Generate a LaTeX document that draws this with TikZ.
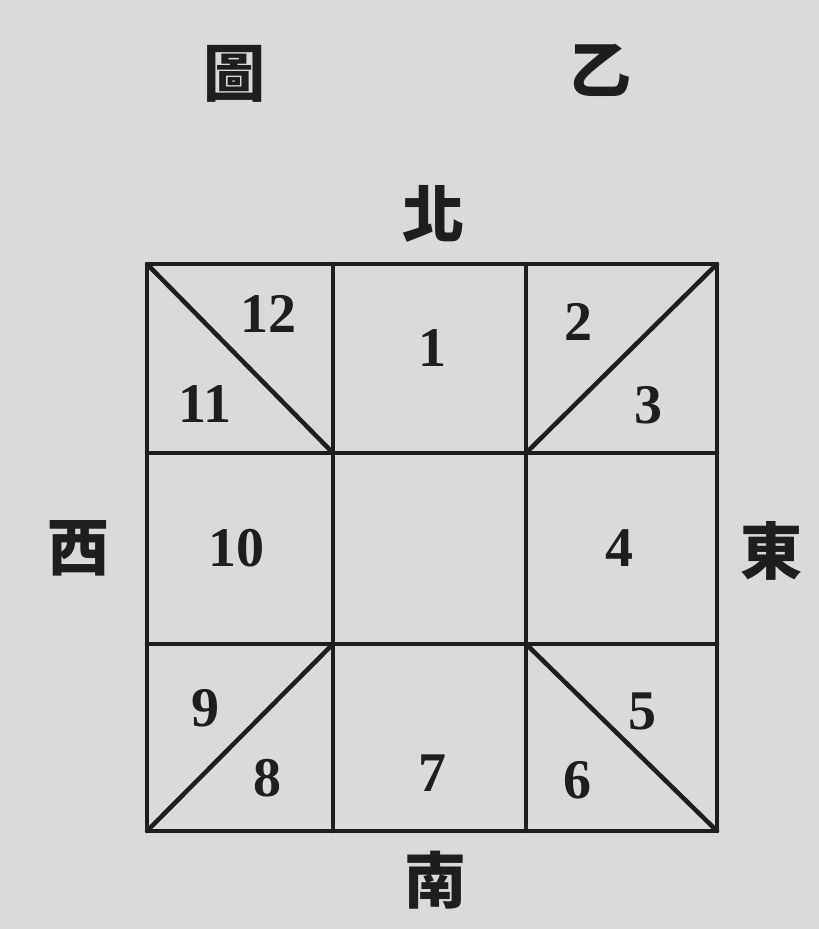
\documentclass[tikz,border=0pt]{standalone}
\usepackage{fontspec}
\setmainfont{Liberation Serif}
\newfontfamily\cjk{Noto Sans CJK TC}
\definecolor{paper}{HTML}{DADADA}
\definecolor{ink}{HTML}{1E1E1E}
\begin{document}
\begin{tikzpicture}[x=1pt,y=-1pt,
  gridline/.style={draw=ink,line width=4.5pt,line cap=round,line join=round},
  num/.style={text=ink,font=\fontsize{56}{60}\selectfont\bfseries,inner sep=0pt},
  dir/.style={text=ink,font=\cjk\bfseries\fontsize{62}{66}\selectfont,inner sep=0pt}]
\fill[paper] (0,0) rectangle (819,929);
\useasboundingbox (0,0) rectangle (819,929);
% grid corners
\coordinate (A) at (147,264); \coordinate (B) at (717,264);
\coordinate (C) at (717,831); \coordinate (D) at (147,831);
\coordinate (x1t) at (333,264); \coordinate (x1b) at (333,831);
\coordinate (x2t) at (526,264); \coordinate (x2b) at (526,831);
\coordinate (y1l) at (147,453); \coordinate (y1r) at (717,453);
\coordinate (y2l) at (147,644); \coordinate (y2r) at (717,644);
\coordinate (P) at (333,453); \coordinate (Q) at (526,453);
\coordinate (R) at (333,644); \coordinate (S) at (526,644);
\draw[gridline] (A) -- (B) -- (C) -- (D) -- cycle;
\draw[gridline] (x1t) -- (x1b);
\draw[gridline] (x2t) -- (x2b);
\draw[gridline] (y1l) -- (y1r);
\draw[gridline] (y2l) -- (y2r);
\draw[gridline] (A) -- (P);
\draw[gridline] (B) -- (Q);
\draw[gridline] (D) -- (R);
\draw[gridline] (C) -- (S);
% title
\node[dir] (tu) at (234,74) {圖};
\node[dir] (yi) at (600,70) {乙};
% directions
\node[dir] (north) at (433,214) {北};
\node[dir] (south) at (435,880) {南};
\node[dir] (west) at (78,548) {西};
\node[dir] (east) at (771,551) {東};
% numbers
\node[num] (n12) at (268,314) {12};
\node[num] (n11) at (205,404) {11};
\node[num] (n1) at (432,348) {1};
\node[num] (n2) at (578,322) {2};
\node[num] (n3) at (648,405) {3};
\node[num] (n10) at (236,548) {10};
\node[num] (n4) at (619,548) {4};
\node[num] (n9) at (205,708) {9};
\node[num] (n8) at (267,778) {8};
\node[num] (n7) at (432,773) {7};
\node[num] (n6) at (577,780) {6};
\node[num] (n5) at (642,711) {5};
\end{tikzpicture}
\end{document}
